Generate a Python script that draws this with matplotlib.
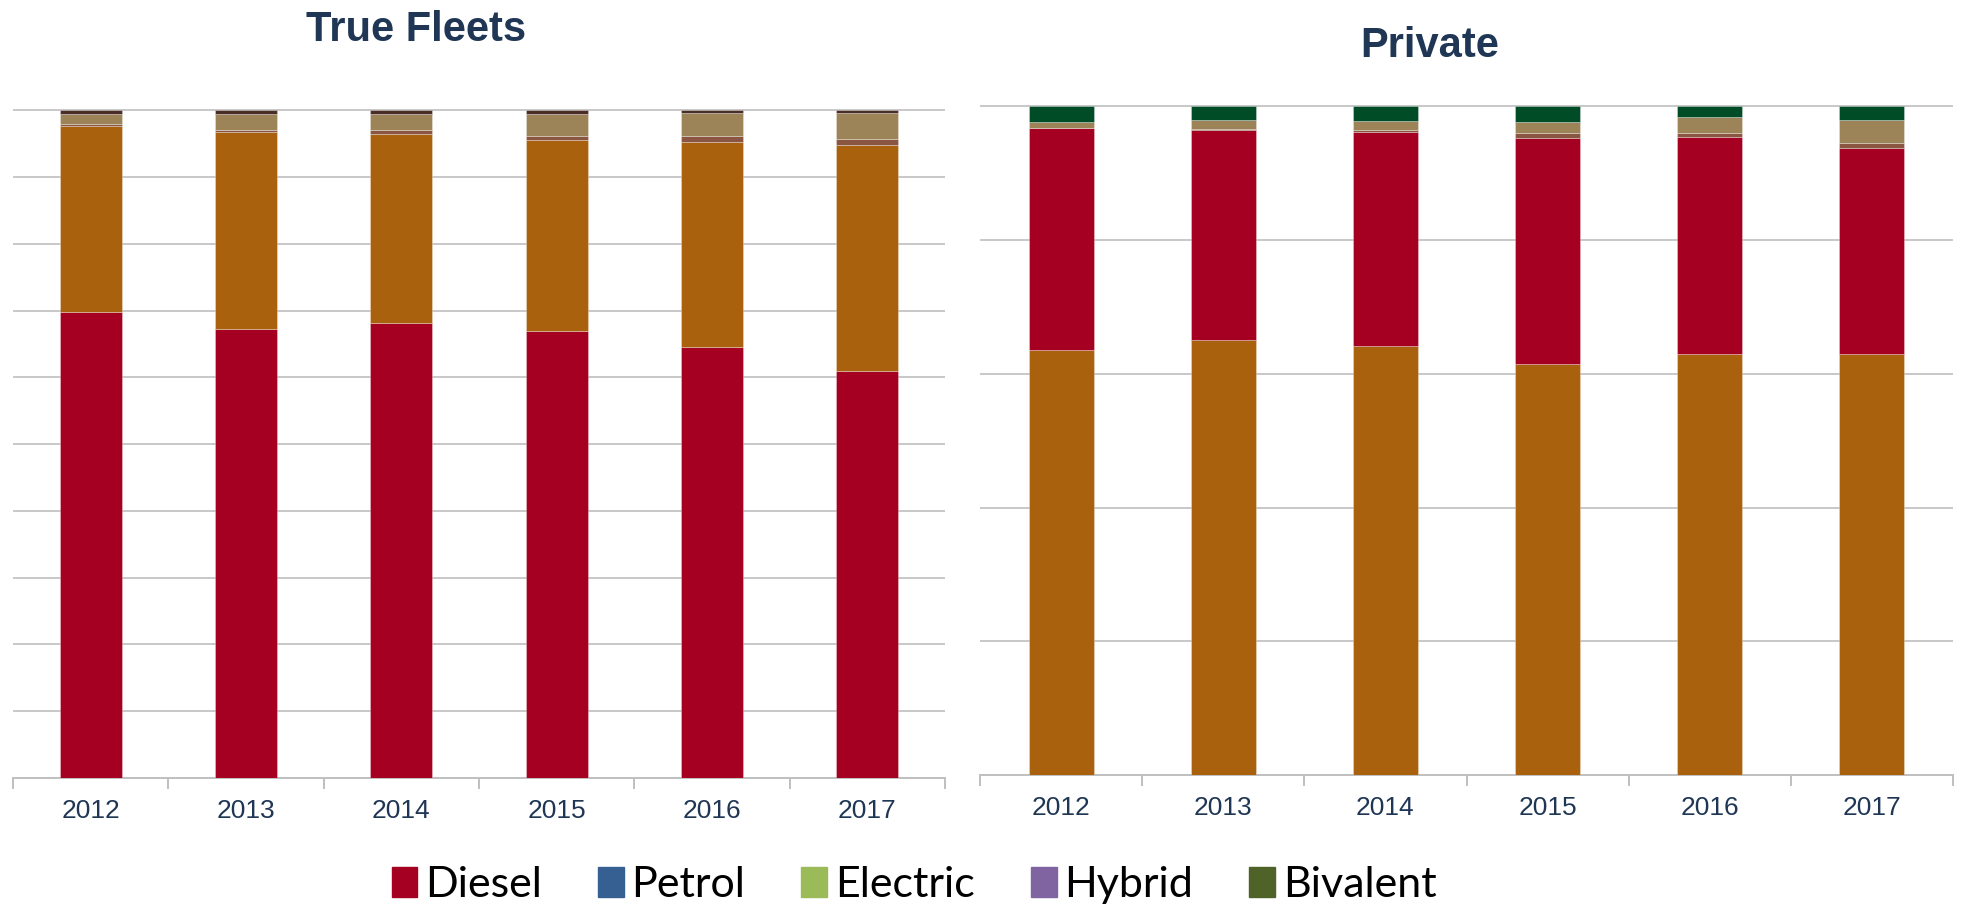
import matplotlib
matplotlib.use("Agg")
import matplotlib.pyplot as plt
import numpy as np
from matplotlib.patches import Patch

years = ['2012', '2013', '2014', '2015', '2016', '2017']

# True Fleets shares (%), bottom to top
fleet_diesel = [69.8, 67.3, 68.1, 66.9, 64.6, 60.9]
fleet_petrol = [27.9, 29.5, 28.4, 28.6, 30.7, 33.9]
fleet_electric = [0.3, 0.3, 0.6, 0.6, 0.8, 0.9]
fleet_hybrid = [1.45, 2.35, 2.35, 3.35, 3.5, 3.9]
fleet_bivalent = [0.55, 0.55, 0.55, 0.55, 0.4, 0.4]

# Private shares (%), bottom to top
private_petrol = [63.6, 65.1, 64.2, 61.5, 63.0, 62.9]
private_diesel = [33.1, 31.4, 32.0, 33.8, 32.4, 30.9]
private_electric = [0.1, 0.15, 0.3, 0.7, 0.6, 0.7]
private_hybrid = [0.8, 1.3, 1.3, 1.6, 2.4, 3.5]
private_bivalent = [2.4, 2.05, 2.2, 2.4, 1.6, 2.0]

legend_labels = ['Diesel', 'Petrol', 'Electric', 'Hybrid', 'Bivalent']
legend_colors = ['#A50021', '#376092', '#9BBB59', '#8064A2', '#4F6228']

RED = '#A50021'
ORANGE = '#AA610E'
BROWN = '#8A5641'
TAN = '#9C8358'
DARK_BROWN = '#4A2E25'
DARK_GREEN = '#004C26'
NAVY = '#1F3655'
GRID = '#C8C8C8'

W, H = 1963, 907
fig = plt.figure(figsize=(W / 100, H / 100), dpi=100)


def stacked(ax, series, colors, step):
    x = np.arange(len(years))
    bottom = np.zeros(len(years))
    for vals, c in zip(series, colors):
        ax.bar(x, vals, 0.4, bottom=bottom, color=c, edgecolor=(1, 1, 1, 0.35),
               linewidth=0.6, zorder=3)
        bottom += np.array(vals)
    ax.set_xlim(-0.5, len(years) - 0.5)
    ax.set_ylim(0, 100.2)
    ax.set_yticks(np.arange(step, 101, step))
    ax.yaxis.grid(True, color=GRID, linewidth=1.4)
    ax.set_axisbelow(True)
    ax.tick_params(axis='y', length=0, labelleft=False)
    for s in ['left', 'right', 'top']:
        ax.spines[s].set_visible(False)
    ax.spines['bottom'].set_color('#BFBFBF')
    ax.spines['bottom'].set_linewidth(1.4)
    ax.set_xticks(x)
    ax.set_xticklabels(years, fontsize=19, color=NAVY, family='Liberation Sans')
    ax.tick_params(axis='x', which='major', length=0, pad=15)
    ax.set_xticks(np.arange(-0.5, len(years)), minor=True)
    ax.tick_params(axis='x', which='minor', length=8, width=1.4, color='#BFBFBF')


ax1 = fig.add_axes([13 / W, 1 - 778 / H, (945 - 13) / W, (778 - 109) / H])
stacked(ax1, [fleet_diesel, fleet_petrol, fleet_electric, fleet_hybrid, fleet_bivalent],
        [RED, ORANGE, BROWN, TAN, DARK_BROWN], 10)

ax2 = fig.add_axes([980 / W, 1 - 775 / H, (1953 - 980) / W, (775 - 105) / H])
stacked(ax2, [private_petrol, private_diesel, private_electric, private_hybrid, private_bivalent],
        [ORANGE, RED, BROWN, TAN, DARK_GREEN], 20)

fig.text(416 / W, 1 - 41 / H, 'True Fleets', ha='center', va='baseline',
         fontsize=30, fontweight='bold', color=NAVY, family='Liberation Sans')
fig.text(1430 / W, 1 - 57 / H, 'Private', ha='center', va='baseline',
         fontsize=30, fontweight='bold', color=NAVY, family='Liberation Sans')

handles = [Patch(facecolor=c, edgecolor=c) for c in legend_colors]
fig.legend(handles, legend_labels, loc='center', bbox_to_anchor=(914 / W, 1 - 885 / H),
           ncol=5, frameon=False, prop={'family': 'Lato', 'size': 31},
           handlelength=0.6, handleheight=0.7, handletextpad=0.18,
           columnspacing=1.3, borderaxespad=0)

fig.savefig('out.png', dpi=100)
